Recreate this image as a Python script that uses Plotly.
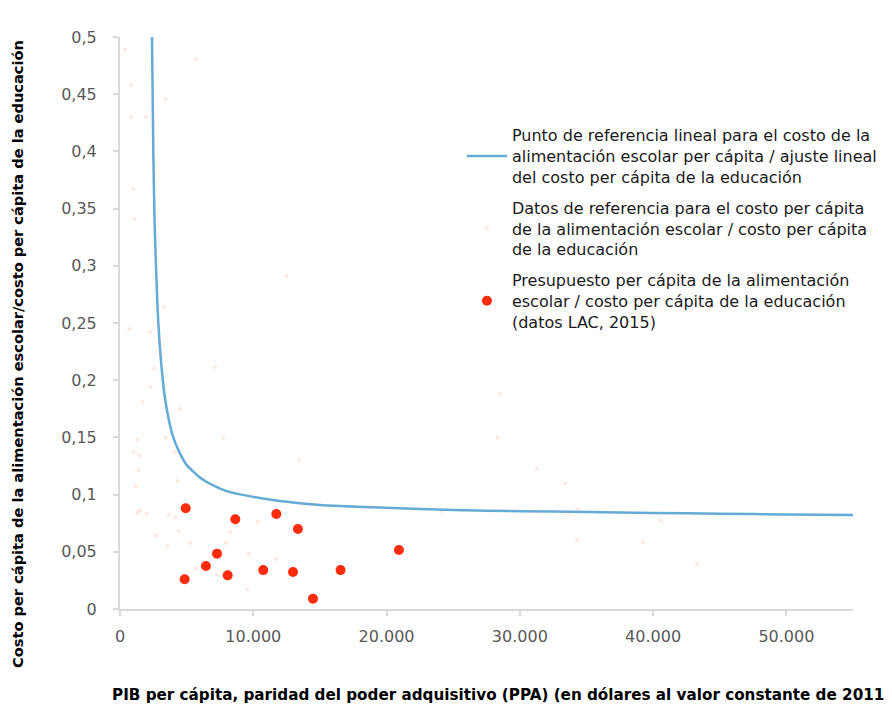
import plotly.graph_objects as go

# Benchmark curve
curve_x = [2400, 2500, 2600, 2800, 3000, 3300, 3600, 4000, 4500, 5000, 6000, 7000, 8000,
           10000, 12000, 15000, 20000, 25000, 30000, 35000, 40000, 45000, 50000, 55000]
curve_y = [0.500, 0.398, 0.337, 0.268, 0.228, 0.191, 0.169, 0.150, 0.136, 0.126, 0.115, 0.108, 0.103,
           0.098, 0.0945, 0.091, 0.0885, 0.0865, 0.0855, 0.0848, 0.0840, 0.0833, 0.0827, 0.0822]

# Faint reference data points
ref_x = [375, 5700, 825, 825, 1925, 3425, 1000, 1100, 12500, 3300,
         700, 2250, 2575, 7125, 2300, 1700, 4500, 1300, 3425, 7750,
         1000, 1450, 4125, 13450, 1400, 4300, 1200, 1500, 2000, 1300,
         3625, 4150, 2675, 4400, 3575, 5250, 8250, 7950, 10350, 9650,
         11750, 5700, 7250, 9575, 24100, 28500, 28330, 31280, 33430, 33760,
         34380, 40560, 34300, 39250, 43300]
ref_y = [0.489, 0.4805, 0.458, 0.430, 0.430, 0.4455, 0.367, 0.341, 0.291, 0.264,
         0.2445, 0.242, 0.210, 0.211, 0.194, 0.181, 0.175, 0.148, 0.150, 0.150,
         0.1375, 0.134, 0.137, 0.130, 0.121, 0.112, 0.107, 0.086, 0.083, 0.0845,
         0.082, 0.080, 0.064, 0.0685, 0.055, 0.0574, 0.0676, 0.058, 0.076, 0.048,
         0.044, 0.0356, 0.0297, 0.0172, 0.0857, 0.188, 0.150, 0.1224, 0.110, 0.0842,
         0.0871, 0.0775, 0.0603, 0.0583, 0.0393]

# LAC 2015 budget points
lac_x = [4930, 4850, 6450, 7280, 8080, 8650, 10750, 11730, 12980, 13350, 14480, 16550, 20930]
lac_y = [0.088, 0.026, 0.0376, 0.0484, 0.0294, 0.0784, 0.034, 0.083, 0.0323, 0.070, 0.009, 0.034, 0.0516]

x_ticks = [0, 10000, 20000, 30000, 40000, 50000]

name_line = ("Punto de referencia lineal para el costo de la<br>"
             "alimentación escolar per cápita / ajuste lineal<br>"
             "del costo per cápita de la educación")
name_ref = ("Datos de referencia para el costo per cápita<br>"
            "de la alimentación escolar / costo per cápita<br>"
            "de la educación")
name_lac = ("Presupuesto per cápita de la alimentación<br>"
            "escolar / costo per cápita de la educación<br>"
            "(datos LAC, 2015)")

fig = go.Figure()
fig.add_trace(go.Scatter(x=ref_x, y=ref_y, mode="markers", name=name_ref, legendgroup="b",
                         legendrank=2,
                         marker=dict(size=4, color="rgba(255,170,150,0.28)", line=dict(width=0))))
fig.add_trace(go.Scatter(x=curve_x, y=curve_y, mode="lines", name=name_line, legendgroup="a",
                         legendrank=1,
                         line=dict(color="#66aad6", width=2.5, shape="spline", smoothing=0.6)))
fig.add_trace(go.Scatter(x=lac_x, y=lac_y, mode="markers", name=name_lac, legendgroup="c",
                         legendrank=3,
                         marker=dict(size=10, color="#ff2d0d", line=dict(width=0))))

axis_color = "#d9d9d9"
fig.update_layout(
    width=892, height=705,
    margin=dict(l=112, r=47, t=29, b=104, autoexpand=False),
    paper_bgcolor="white", plot_bgcolor="white",
    separators=",.",
    font=dict(family="DejaVu Sans", color="#222"),
    showlegend=True,
    legend=dict(x=0.4665, y=0.858, xanchor="left", yanchor="top",
                font=dict(family="DejaVu Sans", size=16, color="#1a1a1a"),
                tracegroupgap=7, bgcolor="rgba(0,0,0,0)", itemwidth=40),
    xaxis=dict(range=[0, 55000], tickvals=x_ticks,
               tickformat=",", showgrid=False, zeroline=False,
               showline=True, linecolor=axis_color, linewidth=2,
               ticks="outside", ticklen=5, tickcolor=axis_color, tickwidth=1.5,
               tickfont=dict(family="DejaVu Sans", size=16, color="#595959"),
               ticklabelstandoff=7),
    yaxis=dict(range=[0, 0.5], dtick=0.05, tick0=0, showgrid=False, zeroline=False,
               showline=True, linecolor=axis_color, linewidth=2,
               ticks="outside", ticklen=5, tickcolor=axis_color, tickwidth=1.5,
               tickfont=dict(family="DejaVu Sans", size=16, color="#595959"),
               ticklabelstandoff=13),
    annotations=[
        dict(text="<b>Costo per cápita de la alimentación escolar/costo per cápita de la educación</b>",
             xref="paper", yref="paper", x=-0.139, y=0.446, textangle=-90,
             showarrow=False, xanchor="center", yanchor="middle",
             font=dict(family="DejaVu Sans", size=14.6, color="black")),
        dict(text="<b>PIB per cápita, paridad del poder adquisitivo (PPA) (en dólares al valor constante de 2011)</b>",
             xref="paper", yref="paper", x=-0.0136, y=-0.150,
             showarrow=False, xanchor="left", yanchor="middle",
             font=dict(family="DejaVu Sans", size=15.2, color="black")),
    ],
)

fig.write_html("out.html")
